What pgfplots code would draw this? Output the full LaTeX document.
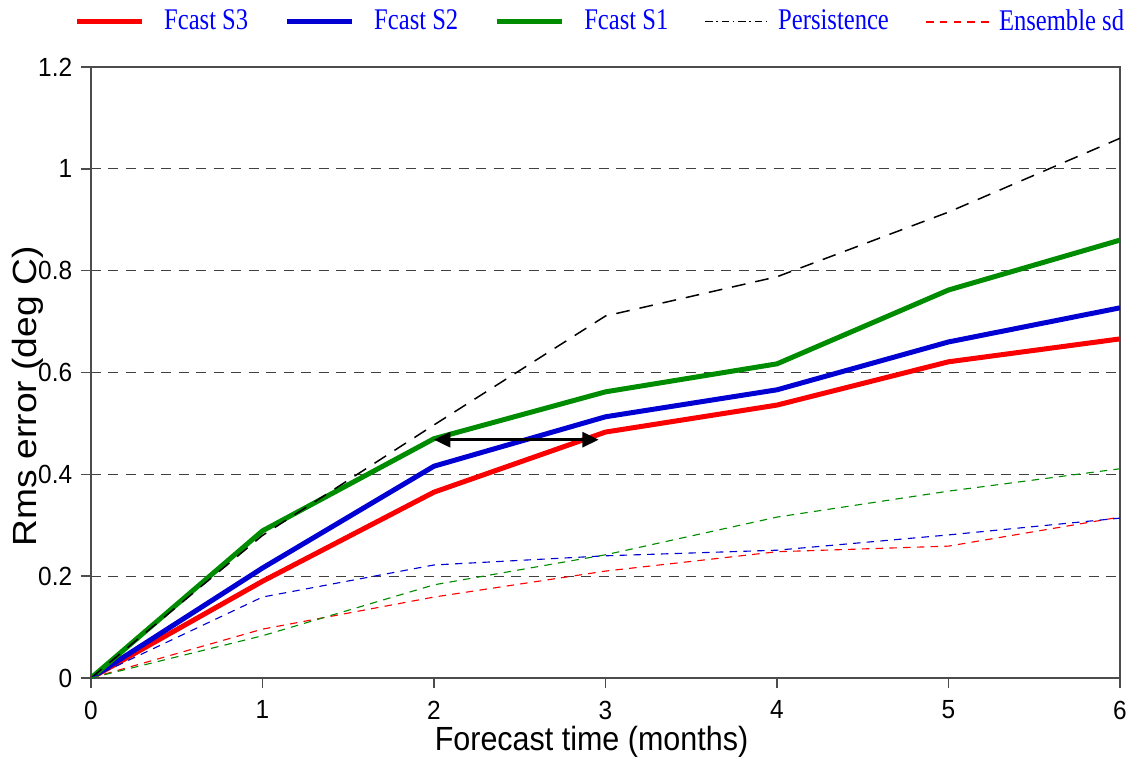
\documentclass[border=0pt]{standalone}
\usepackage{fontspec}
\setmainfont{Liberation Sans}
\newfontfamily\legfont[FakeStretch=0.82]{Liberation Serif}
\newfontfamily\tickfont[FakeStretch=0.93]{Liberation Sans}
\newfontfamily\xlabfont[FakeStretch=0.91]{Liberation Sans}
\newfontfamily\ylabfont[FakeStretch=1.11]{Liberation Sans}
\usepackage{pgfplots}
\pgfplotsset{compat=1.18}
\usetikzlibrary{arrows.meta}
\definecolor{fred}{RGB}{250,0,0}
\definecolor{fblue}{RGB}{0,0,210}
\definecolor{fgreen}{RGB}{0,140,0}
\begin{document}
\begin{tikzpicture}
\begin{axis}[
  name=ax,
  scale only axis,
  width=411.6pt, height=244.4pt,
  xmin=0, xmax=6, ymin=0, ymax=1.2,
  xtick={0,1,2,3,4,5,6},
  ytick={0,0.2,0.4,0.6,0.8,1,1.2},
  xtick pos=left, ytick pos=left,
  tick align=outside,
  major tick length=4pt,
  tick style={black!70, line width=0.6pt},
  axis line style={black!70, line width=0.8pt},
  ymajorgrids,
  grid style={dashed, black!75, line width=0.5pt, dash pattern=on 4pt off 3pt},
  /pgf/number format/assume math mode=true,
  ticklabel style={font=\tickfont\fontsize{10.5}{12}\selectfont},
  xticklabel style={yshift=-1.6pt},
  xlabel={Forecast time (months)},
  ylabel={Rms error (deg C)},
  xlabel style={font=\xlabfont\fontsize{13.4}{16}\selectfont, yshift=4pt, xshift=-5.6pt},
  ylabel style={font=\ylabfont\fontsize{13.4}{16}\selectfont, yshift=-9pt, xshift=-9.5pt},
  legend columns=5,
  legend style={at={(0.5,1)}, anchor=south, yshift=13pt, xshift=-2.5pt, draw=none, fill=none,
    font=\legfont\fontsize{12}{14}\selectfont, text=blue,
    nodes={inner sep=0pt},
    /tikz/every even column/.append style={column sep=14.5pt},
    /tikz/column 8/.append style={column sep=9pt},
    inner sep=0pt},
  legend image code/.code={\draw[#1] (0pt,0pt) -- (26pt,0pt); \path[draw=none] (0pt,0pt) -- (34.9pt,0pt);},
]
\addplot[fred, line width=2pt] coordinates {(0,0) (1,0.19) (2,0.365) (3,0.483) (4,0.536) (5,0.621) (6,0.666)};
\addlegendentry{Fcast S3}
\addplot[fblue, line width=2pt] coordinates {(0,0) (1,0.216) (2,0.416) (3,0.513) (4,0.566) (5,0.660) (6,0.727)};
\addlegendentry{Fcast S2}
\addplot[fgreen, line width=2pt] coordinates {(0,0) (1,0.289) (2,0.470) (3,0.562) (4,0.617) (5,0.762) (6,0.860)};
\addlegendentry{Fcast S1}
\addplot[black, line width=0.6pt, dash pattern=on 5.5pt off 4pt,
  legend image code/.code={\draw[black, line width=0.5pt, dash pattern=on 3pt off 1.5pt on 0.6pt off 1.5pt] (0pt,0pt) -- (26pt,0pt); \path[draw=none] (0pt,0pt) -- (29.2pt,0pt);}]
  coordinates {(0,0) (1,0.28) (2,0.497) (3,0.711) (4,0.788) (5,0.915) (6,1.06)};
\addlegendentry{Persistence}
\addplot[red, line width=0.45pt, dash pattern=on 3pt off 2.5pt,
  legend image code/.code={\draw[red, draw=red, line width=0.7pt, dash pattern=on 3pt off 2.5pt] (0pt,0pt) -- (26pt,0pt); \path[draw=none] (0pt,0pt) -- (29.2pt,0pt);}]
  coordinates {(0,0) (1,0.096) (2,0.159) (3,0.210) (4,0.248) (5,0.259) (6,0.316)};
\addlegendentry{Ensemble sd}
\addplot[fblue, line width=0.45pt, dash pattern=on 3pt off 2.5pt, forget plot]
  coordinates {(0,0) (1,0.159) (2,0.222) (3,0.240) (4,0.251) (5,0.281) (6,0.314)};
\addplot[fgreen, line width=0.45pt, dash pattern=on 3pt off 2.5pt, forget plot]
  coordinates {(0,0) (1,0.083) (2,0.183) (3,0.242) (4,0.316) (5,0.367) (6,0.411)};
\addplot[black, line width=1.1pt, {Triangle[length=6.5pt,width=6pt]}-{Triangle[length=6.5pt,width=6pt]}, forget plot]
  coordinates {(2,0.468) (2.96,0.468)};
\end{axis}
\pgfresetboundingbox
\path[use as bounding box] ([shift={(-36.4pt,-32.8pt)}]ax.south west) rectangle ([shift={(2.4pt,26.8pt)}]ax.north east);
\end{tikzpicture}
\end{document}
